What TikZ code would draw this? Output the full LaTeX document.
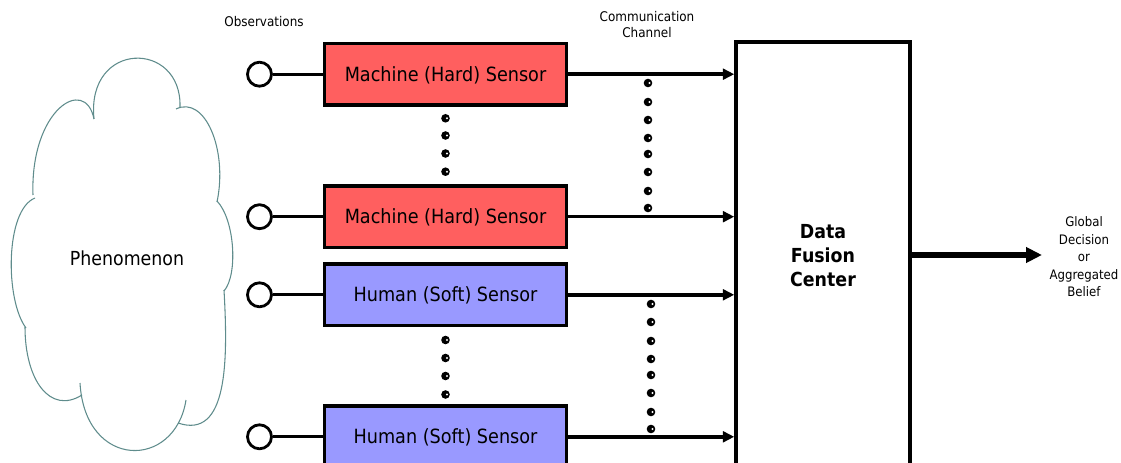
\documentclass[tikz,border=0pt]{standalone}
\usepackage{fontspec}
\setmainfont[FakeStretch=0.9]{DejaVu Sans}
\usetikzlibrary{arrows.meta}
\definecolor{hardfill}{RGB}{255,95,95}
\definecolor{softfill}{RGB}{153,153,255}
\definecolor{cloudline}{RGB}{95,140,140}
\begin{document}
\begin{tikzpicture}[x=0.75pt,y=-0.75pt,
  sensorbox/.style={draw=black, line width=2.5pt, minimum width=181.5pt, minimum height=46.1pt, inner sep=0pt, text height=10.7pt, text depth=0pt, font=\fontsize{14.7pt}{17pt}\selectfont},
  hard/.style={sensorbox, fill=hardfill},
  soft/.style={sensorbox, fill=softfill},
  obs/.style={draw=black, circle, line width=2.1pt, minimum size=18pt, inner sep=0pt, fill=white},
  link/.style={line width=2.1pt},
  chan/.style={line width=2.6pt, -{Triangle[length=8.5pt,width=8pt]}},
  outarrow/.style={line width=4.5pt, -{Triangle[length=12pt,width=11.25pt]}},
  fusion/.style={draw=black, line width=2.6pt, minimum width=130.5pt, minimum height=321pt, inner sep=0pt, align=center, font=\bfseries\fontsize{14.5pt}{18pt}\selectfont},
  small/.style={font=\fontsize{10pt}{12pt}\selectfont, align=center, inner sep=0pt},
  cloudstroke/.style={draw=cloudline, line width=0.8pt},
  chdot/.style={fill=black}
]
\useasboundingbox (0,0) rectangle (1121,463);
\clip (0,0) rectangle (1121,463);

% cloud
\draw[cloudstroke] (94,119) .. controls (86,40) and (182,40) .. (180,107);
\draw[cloudstroke] (176,109) .. controls (205,95) and (228,150) .. (217,202);
\draw[cloudstroke] (217,201) .. controls (235,220) and (238,275) .. (224,291);
\draw[cloudstroke] (224,290) .. controls (228,360) and (228,440) .. (178,423);
\draw[cloudstroke] (186,400) .. controls (175,470) and (85,470) .. (80,383);
\draw[cloudstroke] (82,395) .. controls (50,415) and (25,380) .. (25,327);
\draw[cloudstroke] (26,328) .. controls (5,300) and (5,210) .. (35,198);
\draw[cloudstroke] (33,195) .. controls (30,110) and (85,75) .. (94,119);
\node[font=\fontsize{14.5pt}{17pt}\selectfont, text height=10.6pt, text depth=0pt, inner sep=0pt] (phen) at (127,258) {Phenomenon};

% sensors
\node[hard] (s1) at (445.5,74.2) {Machine (Hard) Sensor};
\node[hard] (s2) at (445.5,216.7) {Machine (Hard) Sensor};
\node[soft] (s3) at (445.5,294.8) {Human (Soft) Sensor};
\node[soft] (s4) at (445.5,436.8) {Human (Soft) Sensor};

% observation points
\node[obs] (o1) at (259.5,74.2) {};
\node[obs] (o2) at (259.5,216.7) {};
\node[obs] (o3) at (259.5,294.8) {};
\node[obs] (o4) at (259.5,436.8) {};
\foreach \i in {1,2,3,4} { \draw[link] (o\i) -- (s\i); }

% fusion center
\node[fusion] (fc) at (823,256) {Data\\Fusion\\Center};

% channels
\foreach \i in {1,2,3,4} { \draw[chan] (s\i.east) -- (s\i.east -| fc.west); }

% output
\coordinate (out) at (1042,255);
\draw[outarrow] (fc.east |- out) -- (out);

% labels
\node[small] (obslab) at (264,22) {Observations};
\node[small] (commlab) at (647,25) {Communication\\Channel};
\node[font=\fontsize{9.8pt}{13.1pt}\selectfont, align=center, inner sep=0pt] (outlab) at (1084,257) {Global\\Decision\\or\\Aggregated\\Belief};

% vertical dots between sensors
\foreach \y in {118.3,135.5,153.5,171.7} { \fill[chdot] (445.5,\y) circle[radius=4.3]; \fill[white] (447,\y) circle[radius=1.1]; }
\foreach \y in {340,358,376,394.5} { \fill[chdot] (445.5,\y) circle[radius=4.3]; \fill[white] (447,\y) circle[radius=1.1]; }
% channel dots
\foreach \y in {83,102,120,138,154,172,191,208} { \fill[chdot] (648,\y) circle[radius=4.3]; \fill[white] (649.5,\y) circle[radius=1.1]; }
\foreach \y in {304,322,341,359,375,393,412,429} { \fill[chdot] (651,\y) circle[radius=4.3]; \fill[white] (652.5,\y) circle[radius=1.1]; }
\end{tikzpicture}
\end{document}
